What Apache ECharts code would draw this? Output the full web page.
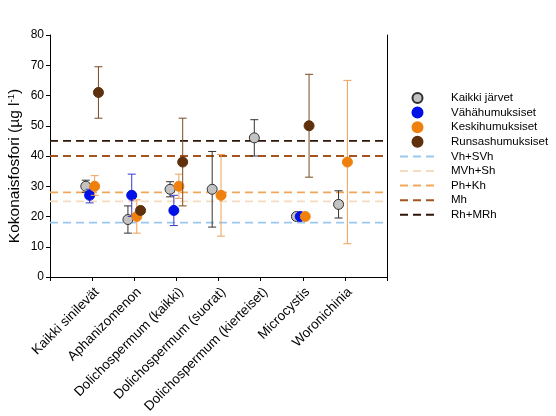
<!DOCTYPE html>
<html><head><meta charset="utf-8">
<script src="https://cdn.jsdelivr.net/npm/echarts@6/dist/echarts.min.js"></script>
<style>html,body{margin:0;padding:0;background:#fff}#c{width:556px;height:416px}</style>
</head><body><div id="c"></div>
<script>
const categories = ['Kaikki sinilevät','Aphanizomenon','Dolichospermum (kaikki)','Dolichospermum (suorat)','Dolichospermum (kierteiset)','Microcystis','Woronichinia'];
const yTicks = [0,10,20,30,40,50,60,70,80];

const kaikkiMean = [30, 19, 29, 29, 46, 20, 24];
const kaikkiLow  = [28, 14.5, 26.5, 16.5, 40, null, 19.5];
const kaikkiHigh = [32, 23.5, 31.5, 41.5, 52, null, 28.5];

const vahaMean = [27, 27, 22, null, null, 20, null];
const vahaLow  = [24.5, 20, 17, null, null, null, null];
const vahaHigh = [29, 34, 27, null, null, null, null];

const keskiMean = [30, 20, 30, 27, null, 20, 38];
const keskiLow  = [27, 14.5, 26, 13.5, null, null, 11];
const keskiHigh = [33.5, 25.5, 34, 40.5, null, null, 65];

const runsasMean = [61, 22, 38, null, null, 50, null];
const runsasLow  = [52.5, null, 23.5, null, null, 33, null];
const runsasHigh = [69.5, null, 52.5, null, null, 67, null];

const refNames  = ['Vh+SVh','MVh+Sh','Ph+Kh','Mh','Rh+MRh'];
const refValues = [18, 25, 28, 40, 45];
const refColors = ['#9cc8ef','#f3dcbf','#f1a75a','#a5541f','#2e1608'];

const groups = [
  {name:'Kaikki järvet', mean:kaikkiMean, low:kaikkiLow, high:kaikkiHigh, color:'#c3c3c3', border:'#303030', err:'#333333', off:-0.15},
  {name:'Vähähumuksiset', mean:vahaMean, low:vahaLow, high:vahaHigh, color:'#0010e6', border:'#0010e6', err:'#3a3ac8', off:-0.06},
  {name:'Keskihumuksiset', mean:keskiMean, low:keskiLow, high:keskiHigh, color:'#f0800e', border:'#f0800e', err:'#eda055', off:0.06},
  {name:'Runsashumuksiset', mean:runsasMean, low:runsasLow, high:runsasHigh, color:'#5e300b', border:'#5e300b', err:'#7a4a20', off:0.15}
];

const series = [];
refNames.forEach((n,i)=>{
  series.push({
    name:n, type:'line', symbol:'none', z:1,
    data:[[0,refValues[i]],[8,refValues[i]]],
    lineStyle:{color:refColors[i], width:1.8, type:[8,5]},
    itemStyle:{color:'rgba(0,0,0,0)', borderWidth:0},
    silent:true
  });
});
groups.forEach((g,gi)=>{
  const errData = [];
  g.mean.forEach((m,i)=>{
    if(m!=null && g.low[i]!=null) errData.push([i+1+g.off, g.low[i], g.high[i]]);
  });
  series.push({
    type:'custom', z:2+gi*2, silent:true,
    data:errData,
    renderItem:function(params, api){
      const x = api.value(0);
      const lo = api.coord([x, api.value(1)]);
      const hi = api.coord([x, api.value(2)]);
      const w = 4;
      const st = {stroke:g.err, lineWidth:1};
      return {type:'group', children:[
        {type:'line', shape:{x1:lo[0],y1:lo[1],x2:hi[0],y2:hi[1]}, style:st},
        {type:'line', shape:{x1:lo[0]-w,y1:lo[1],x2:lo[0]+w,y2:lo[1]}, style:st},
        {type:'line', shape:{x1:hi[0]-w,y1:hi[1],x2:hi[0]+w,y2:hi[1]}, style:st}
      ]};
    }
  });
  const pts = [];
  g.mean.forEach((m,i)=>{ if(m!=null) pts.push([i+1+g.off, m]); });
  series.push({
    name:g.name, type:'scatter', z:3+gi*2, symbol:'circle', symbolSize:10,
    data:pts,
    itemStyle:{color:g.color, borderColor:g.border, borderWidth:1, opacity:1}
  });
});

const chart = echarts.init(document.getElementById('c'));
chart.setOption({
  animation:false,
  textStyle:{fontFamily:'Liberation Sans, Arial, sans-serif'},
  grid:{left:50, right:169, top:35, bottom:139},
  legend:{
    orient:'vertical', left:394, top:87,
    itemWidth:35, itemHeight:10, itemGap:2.6,
    textStyle:{fontSize:11.5, lineHeight:12, color:'#000', padding:[0,0,0,11]},
    data:groups.map(g=>g.name).concat(refNames)
  },
  graphic:[{
    type:'text', x:15, y:166, rotation:Math.PI/2,
    style:{text:'Kokonaisfosfori (µg l{sup|-1})', fontSize:15.5, fill:'#000',
      fontFamily:'Liberation Sans, Arial, sans-serif',
      align:'center', verticalAlign:'middle',
      rich:{sup:{fontSize:9.5, fill:'#000', verticalAlign:'top', padding:[0,0,8,0], fontFamily:'Liberation Sans, Arial, sans-serif'}}}
  }],
  xAxis:{
    type:'value', min:0, max:8, interval:1,
    axisLine:{show:true, lineStyle:{color:'#000', width:1}},
    axisTick:{show:true, length:4, lineStyle:{color:'#000'}},
    splitLine:{show:false},
    axisLabel:{rotate:45, fontSize:13.5, color:'#000', margin:8, verticalAlign:'top',
      formatter:v=>categories[v-1]||''}
  },
  yAxis:[{
    type:'value', min:0, max:80, interval:10,
    axisLine:{show:true, lineStyle:{color:'#000', width:1}},
    axisTick:{show:true, length:4, lineStyle:{color:'#000'}},
    splitLine:{show:false},
    axisLabel:{fontSize:12, color:'#000', margin:6, formatter:v=>yTicks.includes(v)?String(v):''}
  },{
    type:'value', min:0, max:80, interval:10, position:'right',
    axisLine:{show:true, lineStyle:{color:'#000', width:1}},
    axisTick:{show:false}, axisLabel:{show:false}, splitLine:{show:false}
  }],
  series:series
});
</script></body></html>
